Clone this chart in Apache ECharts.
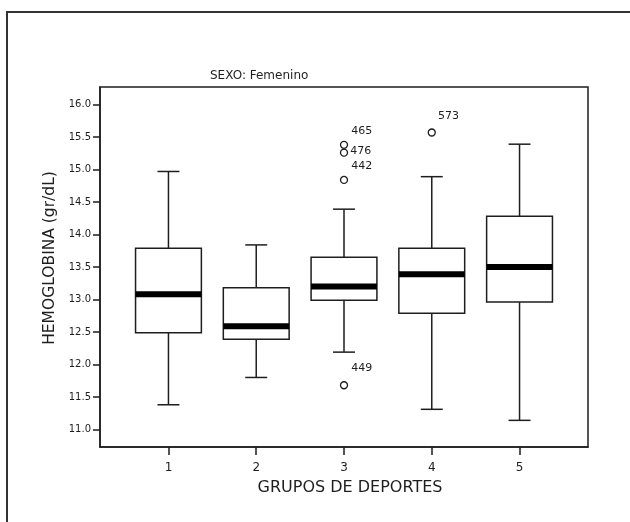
<!DOCTYPE html>
<html><head><meta charset="utf-8">
<script src="https://cdn.jsdelivr.net/npm/echarts@6/dist/echarts.min.js"></script>
<style>html,body{margin:0;padding:0;background:#fff}#c{width:630px;height:522px}</style>
</head><body><div id="c"></div>
<script>
const groups = [1, 2, 3, 4, 5];
const whiskerLow = [11.38, 11.80, 12.19, 11.31, 11.14];
const q1 = [12.49, 12.39, 12.99, 12.79, 12.96];
const medians = [13.08, 12.59, 13.20, 13.39, 13.50];
const q3 = [13.79, 13.18, 13.65, 13.79, 14.28];
const whiskerHigh = [14.97, 13.84, 14.39, 14.89, 15.39];
const outlierGroups = [3, 3, 3, 3, 4];
const outlierValues = [15.38, 15.26, 14.84, 11.68, 15.57];
const outlierIds = ['465', '476', '442', '449', '573'];
const yTicks = [11.0, 11.5, 12.0, 12.5, 13.0, 13.5, 14.0, 14.5, 15.0, 15.5, 16.0];

const labelOffsets = [[0, -14], [-1, -1], [0, -14], [0, -17], [-1, -16]];
const FONT = 'DejaVu Sans';
const INK = '#1e1e1e';

const boxData = groups.map((g, i) => [g, whiskerLow[i], q1[i], medians[i], q3[i], whiskerHigh[i]]);
const outData = outlierValues.map((v, i) => ({
  value: [outlierGroups[i], v],
  name: outlierIds[i],
  label: { offset: labelOffsets[i] }
}));

const chart = echarts.init(document.getElementById('c'), null, { renderer: 'canvas' });
chart.setOption({
  animation: false,
  backgroundColor: '#fff',
  title: {
    text: 'SEXO: Femenino', left: 205, top: 65,
    textStyle: { fontFamily: FONT, fontSize: 12, fontWeight: 'normal', color: INK }
  },
  graphic: [{
    type: 'rect', shape: { x: 7, y: 12, width: 700, height: 600 },
    style: { fill: null, stroke: '#333', lineWidth: 2 }, silent: true
  }],
  grid: {
    left: 100, top: 87, right: 42, bottom: 75, show: true,
    borderColor: INK, borderWidth: 1.5, backgroundColor: 'transparent'
  },
  xAxis: {
    type: 'value', min: 0.22, max: 5.78,
    name: 'GRUPOS DE DEPORTES', nameLocation: 'middle', nameGap: 33,
    nameTextStyle: { fontFamily: FONT, fontSize: 16, color: INK, padding: [0, 0, 0, 12] },
    splitLine: { show: false },
    axisLine: { show: true, lineStyle: { color: INK, width: 1.5 } },
    axisTick: { show: true, length: 8, customValues: groups, lineStyle: { color: INK, width: 1.5 } },
    axisLabel: { customValues: groups, margin: 15, fontFamily: FONT, fontSize: 12, color: INK,
      formatter: v => String(v) }
  },
  yAxis: {
    type: 'value', min: 10.73, max: 16.27,
    name: 'HEMOGLOBINA (gr/dL)', nameLocation: 'middle', nameGap: 40,
    nameTextStyle: { fontFamily: FONT, fontSize: 15.5, color: INK, padding: [0, 0, 0, 18] },
    splitLine: { show: false },
    axisLine: { show: true, lineStyle: { color: INK, width: 1.5 } },
    axisTick: { show: true, length: 7, customValues: yTicks, lineStyle: { color: INK, width: 1.5 } },
    axisLabel: { customValues: yTicks, margin: 9, fontFamily: FONT, fontSize: 10, color: INK,
      formatter: v => v.toFixed(1) }
  },
  series: [{
    type: 'custom',
    data: boxData,
    encode: { x: 0, y: [1, 2, 3, 4, 5] },
    renderItem: function (params, api) {
      const x = api.value(0);
      const pLow = api.coord([x, api.value(1)]);
      const pQ1 = api.coord([x, api.value(2)]);
      const pMed = api.coord([x, api.value(3)]);
      const pQ3 = api.coord([x, api.value(4)]);
      const pHigh = api.coord([x, api.value(5)]);
      const halfBox = api.size([0.75, 0])[0] / 2;
      const halfCap = api.size([0.25, 0])[0] / 2;
      const cx = pMed[0];
      const ls = { stroke: INK, lineWidth: 1.5, fill: null };
      return {
        type: 'group',
        children: [
          { type: 'line', shape: { x1: cx, y1: pQ3[1], x2: cx, y2: pHigh[1] }, style: ls },
          { type: 'line', shape: { x1: cx, y1: pQ1[1], x2: cx, y2: pLow[1] }, style: ls },
          { type: 'line', shape: { x1: cx - halfCap, y1: pHigh[1], x2: cx + halfCap, y2: pHigh[1] }, style: ls },
          { type: 'line', shape: { x1: cx - halfCap, y1: pLow[1], x2: cx + halfCap, y2: pLow[1] }, style: ls },
          { type: 'rect', shape: { x: cx - halfBox, y: pQ3[1], width: halfBox * 2, height: pQ1[1] - pQ3[1] },
            style: { stroke: INK, lineWidth: 1.5, fill: '#fff' } },
          { type: 'line', shape: { x1: cx - halfBox, y1: pMed[1], x2: cx + halfBox, y2: pMed[1] },
            style: { stroke: '#000', lineWidth: 6 } }
        ]
      };
    },
    z: 2
  }, {
    type: 'scatter',
    data: outData,
    symbol: 'circle', symbolSize: 7,
    itemStyle: { color: '#fff', borderColor: INK, borderWidth: 1.3, opacity: 1 },
    label: {
      show: true, position: 'right', distance: 3,
      formatter: p => p.name,
      fontFamily: FONT, fontSize: 11, color: INK
    },
    z: 3
  }]
});
</script></body></html>
